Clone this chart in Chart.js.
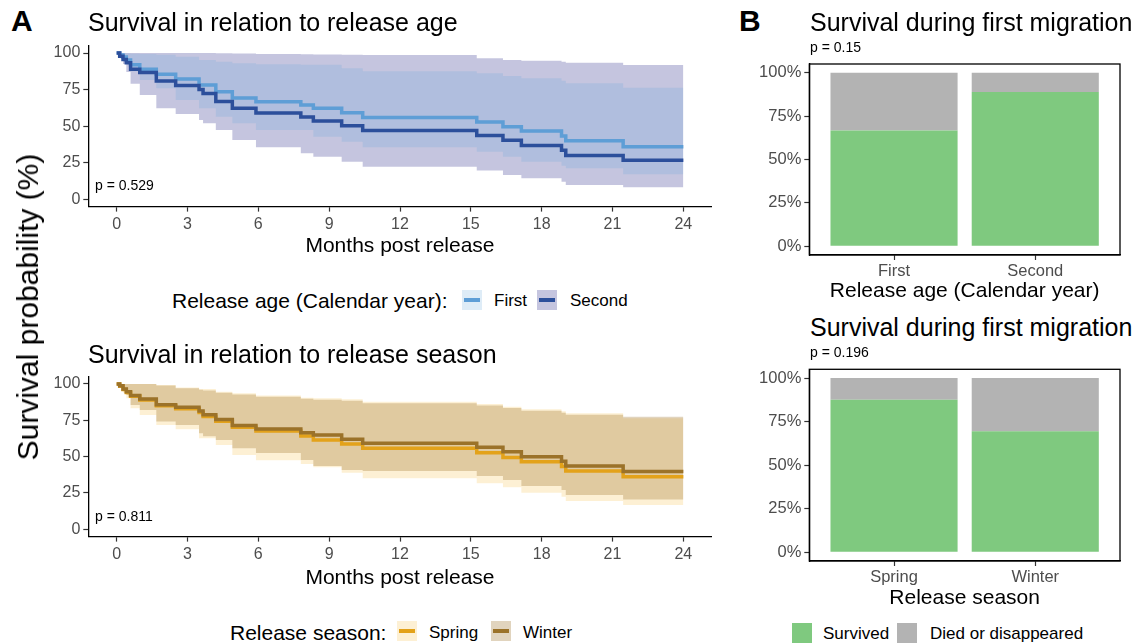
<!DOCTYPE html>
<html>
<head>
<meta charset="utf-8">
<script src="https://cdn.jsdelivr.net/npm/chart.js@4"></script>
<style>
  body { margin: 0; background: #fff; }
  #page { position: relative; width: 1136px; height: 644px; overflow: hidden;
          font-family: 'Liberation Sans', Arial, sans-serif; color: #000; }
  canvas, .txt, .key { position: absolute; }
  .txt { white-space: nowrap; line-height: 1; }
  .key { width: 20px; height: 20px; }
  .key span { position: absolute; left: 2px; right: 2px; top: 8px; height: 4px; }
</style>
</head>
<body>
<div id="page"></div>
<script>
// months post release where the curves step
const months = [0, 0.13, 0.27, 0.41, 0.59, 0.98, 1.68, 2.5, 3.49, 3.66, 4.2, 4.9, 5.9, 7.8, 8.33, 9.53, 10.42, 15.25, 16.36, 17.14, 18.84, 19.02, 21.45, 24];

// survival (%) by release age
const firstSurv   = [100, 98.6, 97.3, 95.2, 91.9, 88.9, 85.4, 82.2, 78.1, 78.1, 73.5, 69.2, 66.7, 64.4, 62.2, 59.2, 55.9, 52.8, 49.6, 46.7, 43.3, 40.1, 36.0, 36.0];
const firstUpper  = [100, 100, 99.8, 99.6, 99.5, 99.3, 98.8, 97.5, 95.2, 95.2, 94.1, 93.0, 92.3, 91.9, 91.9, 89.5, 87.5, 86.1, 84.3, 82.7, 81.0, 79.3, 76.3, 76.3];
const firstLower  = [100, 98, 95.5, 92.5, 87.5, 81.5, 75.9, 67.9, 62.2, 62.2, 56.5, 51.9, 47.4, 47.4, 42.8, 39.4, 35.5, 32.5, 29.1, 25.7, 23.0, 21.2, 17.1, 17.1];
const secondSurv  = [100, 97.8, 95.6, 93.3, 88.9, 86.7, 80.8, 77.8, 75.0, 72.3, 66.8, 62.3, 59.0, 56.2, 53.5, 50.3, 47.0, 43.6, 40.3, 36.8, 33.5, 30.0, 26.7, 26.7];
const secondUpper = [100, 100, 100, 100, 100, 100, 100, 100, 100, 100, 99.8, 99.6, 99.4, 99.2, 99.0, 98.8, 98.6, 96.4, 95.2, 94.7, 94.0, 93.4, 91.8, 91.8];
const secondLower = [100, 96.5, 92.5, 87, 79, 71.3, 62.2, 58.3, 54.2, 52, 47.4, 40.5, 35.5, 31.4, 29.1, 25.7, 22.3, 19.6, 16.6, 14.4, 12.0, 9.8, 8.2, 8.2];

// survival (%) by release season
const springSurv  = [100, 98.5, 96.2, 94.2, 91.5, 89.0, 85.0, 83.0, 80.3, 77.6, 74.4, 70.2, 67.6, 64.2, 61.5, 58.7, 55.7, 52.7, 49.5, 46.5, 43.2, 40.1, 36.2, 36.2];
const springUpper = [100, 100, 100, 100, 100, 100, 99.3, 97.5, 96.6, 96.6, 94.7, 93.6, 92.0, 90.6, 90.2, 89.5, 87.8, 86.2, 84.4, 82.6, 81.2, 79.8, 76.4, 76.4];
const springLower = [100, 97, 94, 90.1, 83.3, 78.7, 71.8, 68.8, 62.6, 62.6, 58.0, 51.1, 47.5, 44.9, 42.7, 39.0, 35.1, 31.7, 28.9, 25.2, 22.5, 19.5, 16.7, 16.7];
const winterSurv  = [100, 98.8, 96.6, 94.7, 92.0, 89.7, 85.7, 83.9, 81.4, 78.9, 75.6, 71.5, 69.0, 66.5, 64.9, 61.9, 59.2, 56.4, 53.4, 50.0, 46.8, 43.6, 39.7, 39.7];
const winterUpper = [100, 100, 100, 100, 100, 100, 99.0, 97.0, 96.0, 95.5, 94.0, 92.8, 91.2, 89.8, 89.2, 88.5, 86.8, 85.2, 83.4, 81.6, 80.2, 78.8, 77.5, 77.5];
const winterLower = [100, 98, 95.5, 92.4, 85.5, 82.1, 74.1, 71.8, 66.1, 64.0, 61.5, 55.7, 52.5, 47.7, 43.6, 40.8, 40.1, 36.7, 33.9, 29.8, 27.0, 23.6, 20.6, 20.6];

// first migration outcome (%)
const ageGroups = ['First', 'Second'];
const ageSurvived = [66.7, 88.9];
const ageDied = [33.3, 11.1];
const seasonGroups = ['Spring', 'Winter'];
const seasonSurvived = [87.5, 69.4];
const seasonDied = [12.5, 30.6];

const page = document.getElementById('page');
Chart.defaults.font.family = "'Liberation Sans', Arial, sans-serif";
Chart.defaults.color = '#4d4d4d';

function text(str, x, cy, size, bold) {
  const d = document.createElement('div');
  d.className = 'txt';
  d.textContent = str;
  d.style.left = x + 'px';
  d.style.top = (cy - size / 2) + 'px';
  d.style.fontSize = size + 'px';
  if (bold) d.style.fontWeight = 'bold';
  page.appendChild(d);
  return d;
}

function key(x, y, fill, line) {
  const d = document.createElement('div');
  d.className = 'key';
  d.style.left = x + 'px';
  d.style.top = y + 'px';
  d.style.background = fill;
  if (line) {
    const s = document.createElement('span');
    s.style.background = line;
    d.appendChild(s);
  }
  page.appendChild(d);
}

// canvas around a wanted plot area; scale sizes are fixed in afterFit
function place(area, bottomH) {
  const left = Math.round(area.left - 50), top = Math.round(area.top - 20);
  const right = Math.round(area.right + 12), bottom = Math.round(area.bottom + bottomH);
  const c = document.createElement('canvas');
  c.width = right - left;
  c.height = bottom - top;
  c.style.left = left + 'px';
  c.style.top = top + 'px';
  page.appendChild(c);
  return {
    canvas: c,
    padding: { left: 0, top: area.top - top, right: right - area.right, bottom: 0 },
    yW: area.left - left,
    xH: bottom - area.bottom
  };
}

const pts = ys => months.map((m, i) => ({ x: m, y: ys[i] }));

const axisGrid = { drawOnChartArea: false, tickLength: 5, tickColor: '#333', tickWidth: 1.2, offset: false };
const axisBorder = { color: '#000', width: 1.3 };

function kmChart(area, titleY, series) {
  const f = place(area, titleY + 11.4 - area.bottom);
  const datasets = [];
  series.forEach(s => {
    datasets.push({ data: pts(s.upper), fill: '+1', backgroundColor: s.band, borderColor: 'transparent',
                    borderWidth: 0, stepped: true, pointRadius: 0, order: s.bandOrder });
    datasets.push({ data: pts(s.lower), fill: false, borderColor: 'transparent',
                    borderWidth: 0, stepped: true, pointRadius: 0, order: s.bandOrder });
  });
  series.forEach(s => {
    datasets.push({ data: pts(s.surv), fill: false, borderColor: s.line, borderWidth: 3.5,
                    stepped: true, pointRadius: 0, order: s.lineOrder });
  });
  new Chart(f.canvas, {
    type: 'line',
    data: { datasets },
    options: {
      responsive: false, animation: false, events: [], devicePixelRatio: 1,
      layout: { padding: f.padding },
      plugins: { legend: { display: false }, tooltip: { enabled: false } },
      scales: {
        x: {
          type: 'linear', min: -1.2, max: 25.2,
          grid: axisGrid, border: axisBorder,
          ticks: { stepSize: 3, includeBounds: false, maxRotation: 0, font: { size: 16 }, padding: 3 },
          title: { display: true, text: 'Months post release', color: '#000', font: { size: 21 }, padding: 0 },
          afterFit: sc => { sc.height = f.xH; }
        },
        y: {
          min: -5, max: 105,
          grid: axisGrid, border: axisBorder,
          ticks: { stepSize: 25, includeBounds: false, font: { size: 16 }, padding: 3 },
          afterFit: sc => { sc.width = f.yW; }
        }
      }
    }
  });
}

const panelBorder = {
  id: 'panelBorder',
  afterDraw(chart) {
    const { ctx, chartArea: a } = chart;
    ctx.save();
    ctx.strokeStyle = '#000';
    ctx.lineWidth = 1.3;
    ctx.strokeRect(a.left, a.top, a.right - a.left, a.bottom - a.top);
    ctx.restore();
  }
};

function barChart(area, titleY, groups, survived, died, title) {
  const f = place(area, titleY + 11.4 - area.bottom);
  new Chart(f.canvas, {
    type: 'bar',
    data: {
      datasets: [
        { label: 'Survived', data: survived.map((v, i) => ({ x: i + 1, y: v })), backgroundColor: '#7FC97F' },
        { label: 'Died or disappeared', data: died.map((v, i) => ({ x: i + 1, y: v })), backgroundColor: '#B3B3B3' }
      ]
    },
    options: {
      responsive: false, animation: false, events: [], devicePixelRatio: 1,
      layout: { padding: f.padding },
      datasets: { bar: { categoryPercentage: 1, barPercentage: 0.9 } },
      plugins: { legend: { display: false }, tooltip: { enabled: false } },
      scales: {
        x: {
          type: 'linear', min: 0.4, max: 2.6, stacked: true, offset: false,
          grid: axisGrid, border: axisBorder,
          ticks: { stepSize: 1, includeBounds: false, maxRotation: 0, font: { size: 16.5 }, padding: 2,
                   callback: v => groups[v - 1] },
          title: { display: true, text: title, color: '#000', font: { size: 21 }, padding: 0 },
          afterFit: sc => { sc.height = f.xH; }
        },
        y: {
          min: -5, max: 105, stacked: true,
          grid: axisGrid, border: axisBorder,
          ticks: { stepSize: 25, includeBounds: false, font: { size: 16.5 }, padding: 3, callback: v => v + '%' },
          afterFit: sc => { sc.width = f.yW; }
        }
      }
    },
    plugins: [panelBorder]
  });
}

const colFirst = '#5E9ED6', colSecond = '#2C4F9B';
const bandFirst = 'rgba(91,159,216,0.2)', bandSecond = 'rgba(110,110,175,0.4)';
const colSpring = '#E3A21A', colWinter = '#9B7229';
const bandSpring = 'rgba(245,180,40,0.2)', bandWinter = 'rgba(155,114,41,0.3)';

// Panel A
kmChart({ left: 88.3, top: 45.7, right: 711.7, bottom: 206.6 }, 248, [
  { surv: secondSurv, upper: secondUpper, lower: secondLower, line: colSecond, band: bandSecond, bandOrder: 4, lineOrder: 1 },
  { surv: firstSurv, upper: firstUpper, lower: firstLower, line: colFirst, band: bandFirst, bandOrder: 3, lineOrder: 2 }
]);
kmChart({ left: 88.3, top: 376.7, right: 711.7, bottom: 536.6 }, 580, [
  { surv: springSurv, upper: springUpper, lower: springLower, line: colSpring, band: bandSpring, bandOrder: 4, lineOrder: 2 },
  { surv: winterSurv, upper: winterUpper, lower: winterLower, line: colWinter, band: bandWinter, bandOrder: 3, lineOrder: 1 }
]);

// Panel B
barChart({ left: 809.3, top: 64, right: 1120, bottom: 255 }, 293, ageGroups, ageSurvived, ageDied, 'Release age (Calendar year)');
barChart({ left: 809.3, top: 369.3, right: 1120, bottom: 561 }, 599.5, seasonGroups, seasonSurvived, seasonDied, 'Release season');

// titles and annotations
text('A', 11, 21, 30, true);
text('B', 739, 21, 30, true);
text('Survival in relation to release age', 88, 22, 25);
text('Survival in relation to release season', 88, 354, 25);
text('Survival during first migration', 810, 22, 25);
text('Survival during first migration', 810, 327, 25);
text('p = 0.529', 95, 185, 14);
text('p = 0.811', 95, 516, 14);
text('p = 0.15', 810, 47, 14);
text('p = 0.196', 810, 352, 14);

const yTitle = text('Survival probability (%)', 28, 307, 30);
yTitle.style.left = '28px';
yTitle.style.top = '307px';
yTitle.style.transform = 'translate(-50%, -50%) rotate(-90deg)';

// legends
text('Release age (Calendar year):', 172, 300, 21);
key(462, 290, bandFirst, colFirst);
text('First', 494, 300, 17);
key(537, 290, bandSecond, colSecond);
text('Second', 570, 300, 17);

text('Release season:', 230, 632, 21);
key(397, 621, bandSpring, colSpring);
text('Spring', 429, 632, 17);
key(491, 621, bandWinter, colWinter);
text('Winter', 523, 632, 17);

key(792, 623, '#7FC97F');
text('Survived', 823, 633, 17);
key(897, 623, '#B3B3B3');
text('Died or disappeared', 930, 633, 17);
</script>
</body>
</html>
